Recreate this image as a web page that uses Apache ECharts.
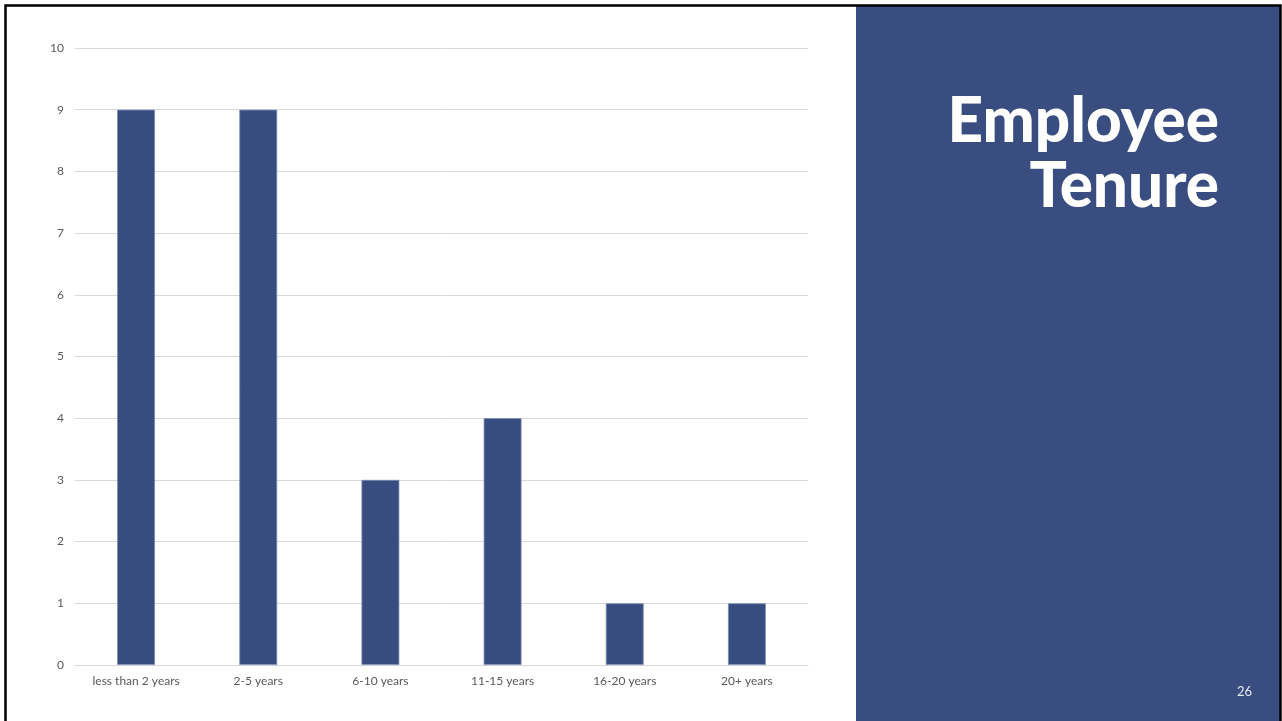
<!DOCTYPE html>
<html>
<head>
<meta charset="utf-8">
<script src="https://cdn.jsdelivr.net/npm/echarts@6/dist/echarts.min.js"></script>
<style>
html,body{margin:0;padding:0;background:#fff;}
#c{width:1282px;height:721px;}
</style>
</head>
<body>
<div id="c"></div>
<script>
const categories = ['less than 2 years','2-5 years','6-10 years','11-15 years','16-20 years','20+ years'];
const counts = [9, 9, 3, 4, 1, 1];
const yTicks = {min: 0, max: 10, interval: 1};
const titleLines = ['Employee', 'Tenure'];
const pageNumber = '26';

const titleFont = '900 62px "Lato Black", Lato, sans-serif';
const chart = echarts.init(document.getElementById('c'), null, {renderer: 'canvas'});
chart.setOption({
  animation: false,
  backgroundColor: '#ffffff',
  graphic: [
    {type: 'rect', shape: {x: 856, y: 6, width: 424, height: 715}, style: {fill: '#394d80'}, z: 0},
    {type: 'polyline', shape: {points: [[5.5, 721], [5.5, 5.5], [1280.5, 5.5], [1280.5, 721]]},
     style: {stroke: '#000000', lineWidth: 2.5, fill: null}, z: 10},
    {type: 'text', z: 5, style: {x: 1219, y: 122, text: titleLines[0], fill: '#ffffff',
      font: titleFont, align: 'right', verticalAlign: 'middle'}},
    {type: 'text', z: 5, style: {x: 1219, y: 187, text: titleLines[1], fill: '#ffffff',
      font: titleFont, align: 'right', verticalAlign: 'middle'}},
    {type: 'text', left: 1237, top: 685, style: {text: pageNumber, fill: '#e6e9f2', font: '13px Lato'}, z: 5}
  ],
  grid: {left: 75, right: 474, top: 48, bottom: 56, containLabel: false},
  xAxis: {
    type: 'category', data: categories,
    axisLine: {show: true, lineStyle: {color: '#d9d9d9', width: 1}},
    axisTick: {show: false},
    axisLabel: {color: '#595959', fontSize: 12, fontFamily: 'Lato', margin: 10}
  },
  yAxis: {
    type: 'value', min: yTicks.min, max: yTicks.max, interval: yTicks.interval,
    axisLine: {show: false}, axisTick: {show: false},
    splitLine: {lineStyle: {color: '#d9d9d9', width: 1}},
    axisLabel: {color: '#595959', fontSize: 12, fontFamily: 'Lato', margin: 11}
  },
  series: [{
    type: 'bar', data: counts, barWidth: '31%',
    itemStyle: {color: '#374c7f', borderColor: '#7d8db5', borderWidth: 0.8}
  }]
});
</script>
</body>
</html>
